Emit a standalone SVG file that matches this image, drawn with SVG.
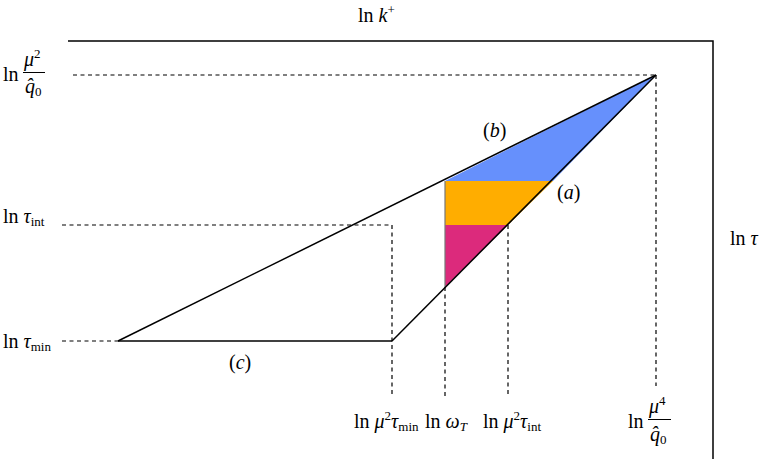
<svg xmlns="http://www.w3.org/2000/svg" width="766" height="459" viewBox="0 0 766 459">
<style>
.t{font-family:"Liberation Serif","DejaVu Serif",serif;font-size:20px;fill:#000}
.i{font-style:italic}
.s{font-size:13px}
.ln{fill:none;stroke:#000;stroke-width:1.5}
.d{fill:none;stroke:#000;stroke-width:1.2;stroke-dasharray:4,3.5}
</style>
<rect width="766" height="459" fill="#fff"/>
<g id="regions">
<polygon id="blue" points="445,181 656,75 553,181" fill="#6690fc"/>
<polygon id="orange" points="445,181 553,181 508,225 445,225" fill="#ffad00"/>
<polygon id="magenta" points="445,225 508,225 445,287" fill="#dc2a7c"/>
<line x1="445" y1="181" x2="445" y2="287" stroke="#777" stroke-width="1.2"/>
</g>
<g id="connectors">
<polyline class="ln" points="68,41 713,41 713,459"/>
<line class="d" x1="73" y1="75" x2="656" y2="75"/>
<line class="d" x1="656" y1="75" x2="656" y2="386"/>
<line class="d" x1="62" y1="225" x2="392" y2="225"/>
<line class="d" x1="392" y1="225" x2="392" y2="396"/>
<line class="d" x1="62" y1="341" x2="118" y2="341"/>
<line class="d" x1="445" y1="287" x2="445" y2="396"/>
<line class="d" x1="508" y1="225" x2="508" y2="396"/>
<line id="b" class="ln" x1="118" y1="341" x2="656" y2="75"/>
<line id="a" class="ln" x1="392" y1="341" x2="656" y2="75"/>
<line id="c" class="ln" x1="118" y1="341" x2="392" y2="341"/>
</g>
<g id="labels">
<text class="t" x="358" y="22">ln <tspan class="i">k</tspan><tspan class="s" dy="-8">+</tspan></text>
<text class="t" x="730" y="245">ln <tspan class="i">τ</tspan></text>
<text class="t" x="483" y="137">(<tspan class="i">b</tspan>)</text>
<text class="t" x="557" y="199">(<tspan class="i">a</tspan>)</text>
<text class="t" x="229" y="369">(<tspan class="i">c</tspan>)</text>
<g id="lab-mu2q0">
<text class="t" x="3" y="81">ln</text>
<text class="t i" x="24" y="66">μ<tspan class="s" dy="-8" font-style="normal">2</tspan></text>
<line x1="23" y1="72.5" x2="45" y2="72.5" stroke="#000" stroke-width="1"/>
<text class="t i" x="25" y="93">q̂<tspan class="s" dy="3" font-style="normal">0</tspan></text>
</g>
<text class="t" x="3" y="223">ln <tspan class="i">τ</tspan><tspan class="s" dy="3">int</tspan></text>
<text class="t" x="3" y="348">ln <tspan class="i">τ</tspan><tspan class="s" dy="3">min</tspan></text>
<text class="t" x="354" y="428">ln <tspan class="i">μ</tspan><tspan class="s" dy="-8">2</tspan><tspan class="i" dy="8">τ</tspan><tspan class="s" dy="3">min</tspan></text>
<text class="t" x="425" y="428">ln <tspan class="i">ω</tspan><tspan class="s i" dy="3">T</tspan></text>
<text class="t" x="483" y="428">ln <tspan class="i">μ</tspan><tspan class="s" dy="-8">2</tspan><tspan class="i" dy="8">τ</tspan><tspan class="s" dy="3">int</tspan></text>
<g id="lab-mu4q0">
<text class="t" x="628" y="428">ln</text>
<text class="t i" x="649" y="413">μ<tspan class="s" dy="-8" font-style="normal">4</tspan></text>
<line x1="648" y1="419.5" x2="671" y2="419.5" stroke="#000" stroke-width="1"/>
<text class="t i" x="650" y="441">q̂<tspan class="s" dy="3" font-style="normal">0</tspan></text>
</g>
</g>
</svg>
